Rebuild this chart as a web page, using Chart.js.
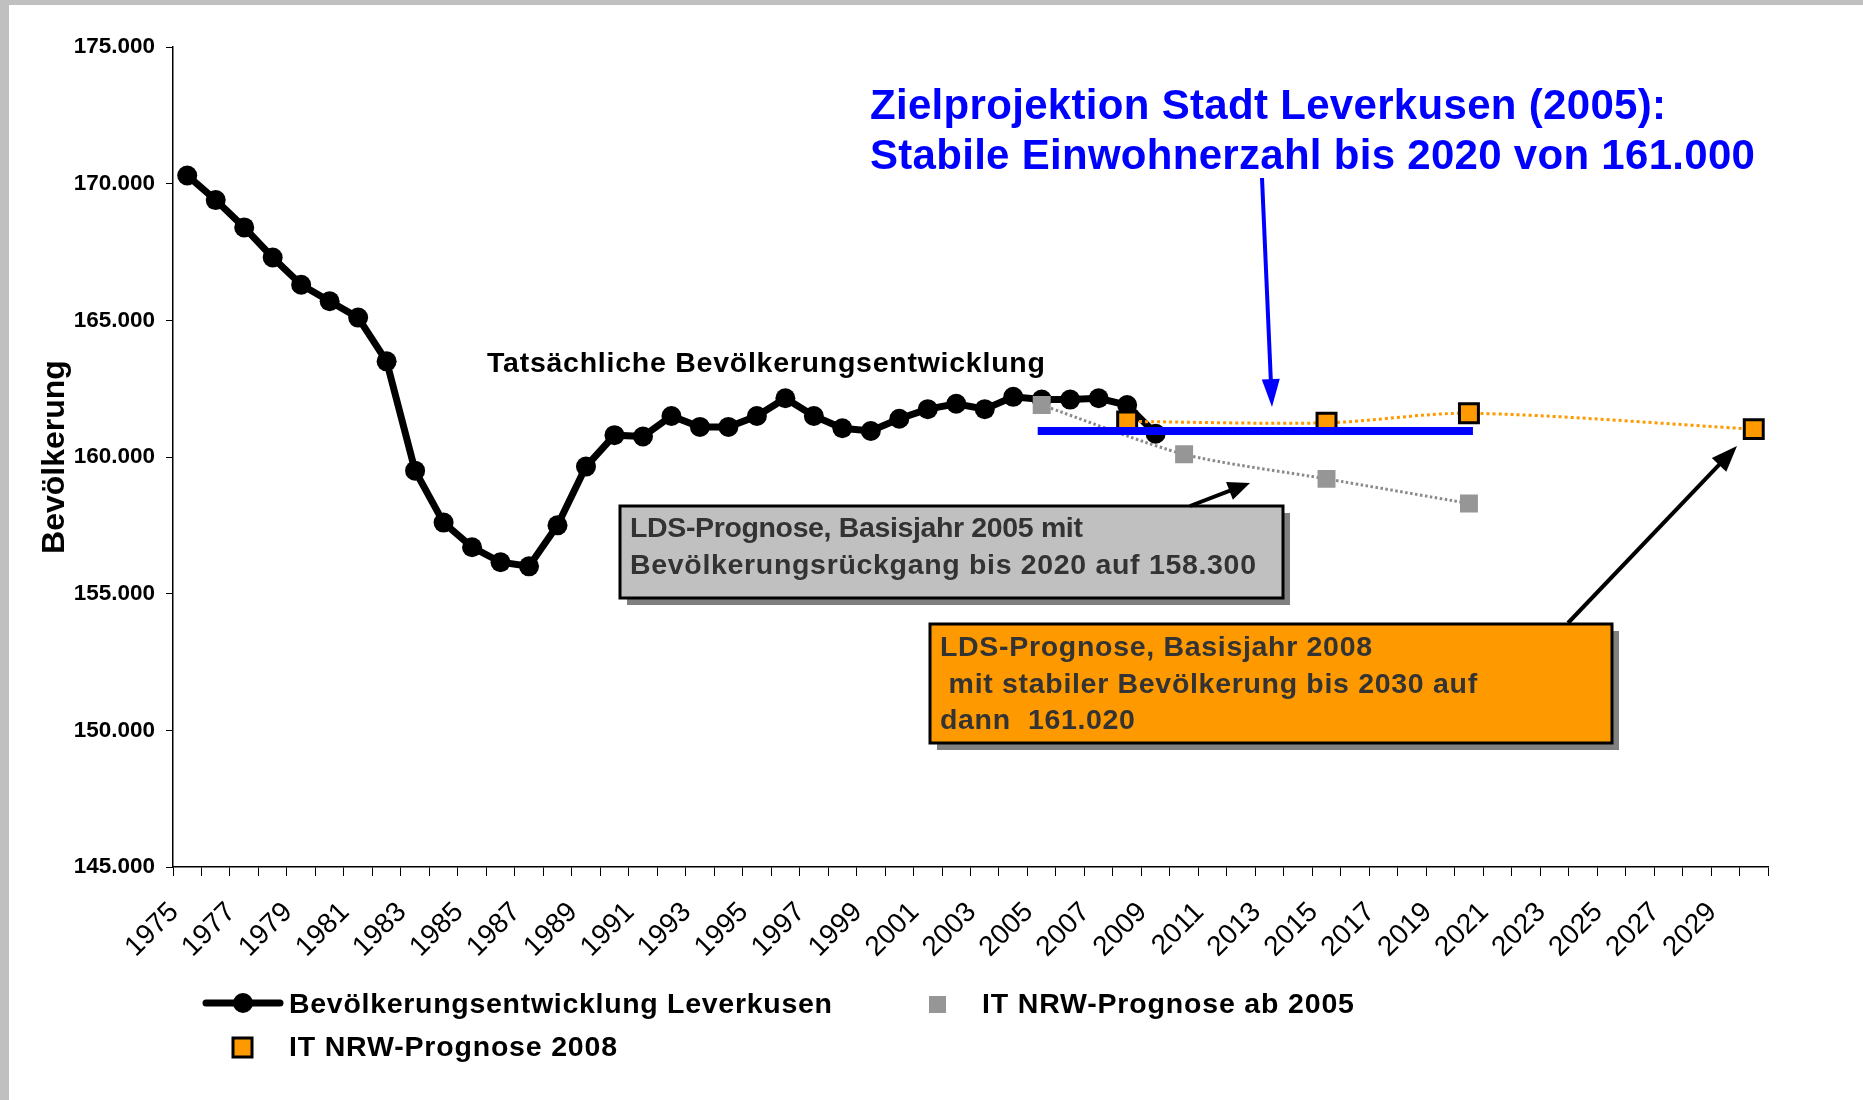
<!DOCTYPE html>
<html>
<head>
<meta charset="utf-8">
<script src="https://cdn.jsdelivr.net/npm/chart.js@4.4.0/dist/chart.umd.min.js"></script>
<style>
  html, body { margin: 0; padding: 0; background: #ffffff; }
  #wrap { position: relative; width: 1863px; height: 1100px; }
  canvas { display: block; }
</style>
</head>
<body>
<div id="wrap"><canvas id="chart" width="1863" height="1100"></canvas></div>
<script>
// ---------- data ----------
const categories = ['1975','1976','1977','1978','1979','1980','1981','1982','1983','1984',
  '1985','1986','1987','1988','1989','1990','1991','1992','1993','1994',
  '1995','1996','1997','1998','1999','2000','2001','2002','2003','2004',
  '2005','2006','2007','2008','2009','2010','2011','2012','2013','2014',
  '2015','2016','2017','2018','2019','2020','2021','2022','2023','2024',
  '2025','2026','2027','2028','2029','2030'];

const tickLabels = ['1975','1977','1979','1981','1983','1985','1987','1989','1991','1993',
  '1995','1997','1999','2001','2003','2005','2007','2009','2011','2013',
  '2015','2017','2019','2021','2023','2025','2027','2029'];

// Bevölkerungsentwicklung Leverkusen, 1975 ... 2009
const populationValues = [170300,169400,168400,167300,166300,165700,165100,163500,159500,157600,
  156700,156150,156000,157500,159650,160800,160750,161500,161100,161100,
  161500,162150,161500,161050,160950,161400,161750,161950,161750,162200,
  162100,162100,162150,161900,160850];

// IT NRW-Prognose ab 2005
const forecast2005Years = ['2005','2010','2015','2020'];
const forecast2005Values = [161900,160100,159200,158300];

// IT NRW-Prognose 2008
const forecast2008Years = ['2008','2015','2020','2030'];
const forecast2008Values = [161300,161250,161600,161020];

// Zielprojektion Stadt Leverkusen (2005)
const targetYears = ['2005','2020'];
const targetValues = [160950,160950];

const seriesNames = ['Bevölkerungsentwicklung Leverkusen','IT NRW-Prognose ab 2005','IT NRW-Prognose 2008'];

// ---------- helpers ----------
const FONT = "'Liberation Sans', Arial, Helvetica, sans-serif";
const pairs = (xs, ys) => xs.map((x, i) => ({ x: x, y: ys[i] }));

function fittedText(ctx, text, x, y, size, weight, color, targetWidth) {
  ctx.save();
  ctx.font = weight + ' ' + size + 'px ' + FONT;
  ctx.fillStyle = color;
  ctx.textAlign = 'left';
  ctx.textBaseline = 'alphabetic';
  const w = ctx.measureText(text).width;
  const n = Array.from(text).length;
  if (targetWidth && 'letterSpacing' in ctx && n > 1) {
    ctx.letterSpacing = ((targetWidth - w) / (n - 1)).toFixed(2) + 'px';
  }
  ctx.fillText(text, x, y);
  ctx.restore();
}

function arrow(ctx, x1, y1, x2, y2, color, width, headLen, headW) {
  const a = Math.atan2(y2 - y1, x2 - x1);
  const bx = x2 - Math.cos(a) * headLen, by = y2 - Math.sin(a) * headLen;
  ctx.save();
  ctx.strokeStyle = color; ctx.fillStyle = color; ctx.lineWidth = width;
  ctx.beginPath(); ctx.moveTo(x1, y1); ctx.lineTo(bx + Math.cos(a) * 2, by + Math.sin(a) * 2); ctx.stroke();
  ctx.beginPath();
  ctx.moveTo(x2, y2);
  ctx.lineTo(bx + Math.sin(a) * headW / 2, by - Math.cos(a) * headW / 2);
  ctx.lineTo(bx - Math.sin(a) * headW / 2, by + Math.cos(a) * headW / 2);
  ctx.closePath(); ctx.fill();
  ctx.restore();
}

function box(ctx, x, y, w, h, fill) {
  ctx.save();
  ctx.fillStyle = '#808080';
  ctx.fillRect(x + 7, y + 7, w, h);
  ctx.fillStyle = fill;
  ctx.fillRect(x, y, w, h);
  ctx.strokeStyle = '#000000'; ctx.lineWidth = 3;
  ctx.strokeRect(x, y, w, h);
  ctx.restore();
}

// ---------- plugins ----------
const frame = {
  id: 'frame',
  beforeDraw(chart) {
    const ctx = chart.ctx;
    ctx.save();
    ctx.fillStyle = '#c0c0c0';
    ctx.fillRect(0, 0, chart.width, chart.height);
    ctx.fillStyle = '#ffffff';
    ctx.fillRect(9, 5, chart.width - 9, chart.height - 5);
    ctx.restore();
  }
};

const annotations = {
  id: 'annotations',
  afterDraw(chart) {
    const ctx = chart.ctx;
    // title
    fittedText(ctx, 'Zielprojektion Stadt Leverkusen (2005):', 870, 119, 42, 'bold', '#0000ff', 796);
    fittedText(ctx, 'Stabile Einwohnerzahl bis 2020 von 161.000', 870, 169, 42, 'bold', '#0000ff', 885);
    arrow(ctx, 1262, 178, 1272, 407, '#0000ff', 4, 28, 18);

    // label of actual series
    fittedText(ctx, 'Tatsächliche Bevölkerungsentwicklung', 487, 372, 28.5, 'bold', '#000000', 558);

    // grey note
    box(ctx, 620, 506, 663, 92, '#c0c0c0');
    fittedText(ctx, 'LDS-Prognose, Basisjahr 2005 mit', 630, 537, 28.5, 'bold', '#333333', 453);
    fittedText(ctx, 'Bevölkerungsrückgang bis 2020 auf 158.300', 630, 574, 28.5, 'bold', '#333333', 626);
    arrow(ctx, 1190, 506, 1250, 483, '#000000', 4, 22, 19);

    // orange note
    box(ctx, 930, 624, 682, 119, '#ff9900');
    fittedText(ctx, 'LDS-Prognose, Basisjahr 2008', 940, 656, 28.5, 'bold', '#333333', 432);
    fittedText(ctx, ' mit stabiler Bevölkerung bis 2030 auf', 940, 693, 28.5, 'bold', '#333333', 537);
    fittedText(ctx, 'dann  161.020', 940, 729, 28.5, 'bold', '#333333', 195);
    arrow(ctx, 1568, 623, 1737, 446, '#000000', 4, 26, 20);
  }
};

const customLegend = {
  id: 'customLegend',
  afterDraw(chart) {
    const ctx = chart.ctx;
    const ds = chart.data.datasets;
    ctx.save();
    // series 1: line with dot
    ctx.strokeStyle = ds[0].borderColor; ctx.lineWidth = 7; ctx.lineCap = 'round';
    ctx.beginPath(); ctx.moveTo(206, 1003); ctx.lineTo(280, 1003); ctx.stroke();
    ctx.fillStyle = ds[0].pointBackgroundColor;
    ctx.beginPath(); ctx.arc(243, 1003, 10, 0, Math.PI * 2); ctx.fill();
    // series 2: grey square
    ctx.fillStyle = ds[1].pointBackgroundColor;
    ctx.fillRect(929, 996, 17, 17);
    // series 3: orange square with border
    ctx.fillStyle = ds[2].pointBackgroundColor;
    ctx.fillRect(233, 1038, 19, 19);
    ctx.strokeStyle = '#000000'; ctx.lineWidth = 3;
    ctx.strokeRect(233, 1038, 19, 19);
    ctx.restore();
    fittedText(ctx, seriesNames[0], 289, 1013, 28.5, 'bold', '#000000', 543);
    fittedText(ctx, seriesNames[1], 982, 1013, 28.5, 'bold', '#000000', 372);
    fittedText(ctx, seriesNames[2], 289, 1056, 28.5, 'bold', '#000000', 328);
  }
};

// ---------- chart ----------
Chart.defaults.font.family = FONT;
Chart.defaults.color = '#000000';

new Chart(document.getElementById('chart'), {
  type: 'line',
  data: {
    labels: categories,
    datasets: [
      {
        label: seriesNames[0],
        data: populationValues,
        borderColor: '#000000',
        backgroundColor: '#000000',
        borderWidth: 7,
        pointRadius: 10,
        pointBackgroundColor: '#000000',
        pointBorderWidth: 0,
        tension: 0,
        order: 3
      },
      {
        label: seriesNames[1],
        data: pairs(forecast2005Years, forecast2005Values),
        borderColor: '#8a8a8a',
        borderWidth: 3,
        borderDash: [2.5, 2.5],
        pointStyle: 'rect',
        pointRadius: 12.7,
        pointBackgroundColor: '#969696',
        pointBorderWidth: 0,
        tension: 0.25,
        order: 1
      },
      {
        label: seriesNames[2],
        data: pairs(forecast2008Years, forecast2008Values),
        borderColor: '#ff9900',
        borderWidth: 3,
        borderDash: [3, 3],
        pointStyle: 'rect',
        pointRadius: 13.4,
        pointBackgroundColor: '#ff9900',
        pointBorderColor: '#000000',
        pointBorderWidth: 3,
        tension: 0.3,
        order: 2
      },
      {
        label: 'Zielprojektion',
        data: pairs(targetYears, targetValues),
        borderColor: '#0000ff',
        borderWidth: 8,
        borderCapStyle: 'square',
        pointRadius: 0,
        tension: 0,
        order: 0
      }
    ]
  },
  options: {
    responsive: false,
    animation: false,
    events: [],
    devicePixelRatio: 1,
    layout: { padding: { left: 0, top: 47, right: 95, bottom: 0 } },
    plugins: {
      legend: { display: false },
      tooltip: { enabled: false },
      title: { display: false }
    },
    scales: {
      x: {
        type: 'category',
        offset: true,
        grid: { offset: true, drawOnChartArea: false, drawTicks: true, tickLength: 9, color: '#000000', lineWidth: 1 },
        border: { color: '#000000', width: 1.5 },
        ticks: {
          autoSkip: false,
          minRotation: 45,
          maxRotation: 45,
          padding: 20,
          labelOffset: -13,
          font: { size: 28, weight: 'normal' },
          color: '#000000',
          callback: function (value, index) {
            const lab = this.getLabelForValue(value);
            return tickLabels.includes(lab) ? lab : '';
          }
        },
        afterFit: (s) => { s.height = 233; }
      },
      y: {
        min: 145000,
        max: 175000,
        grid: { drawOnChartArea: false, drawTicks: true, tickLength: 7, color: '#000000', lineWidth: 1 },
        border: { color: '#000000', width: 1.5 },
        ticks: {
          stepSize: 5000,
          padding: 11,
          font: { size: 22.5, weight: 'bold' },
          color: '#000000',
          callback: (v) => (v / 1000).toFixed(3)
        },
        title: {
          display: true,
          text: 'Bevölkerung',
          font: { size: 32, weight: 'bold' },
          color: '#000000',
          padding: { top: 36, bottom: 0 }
        },
        afterFit: (s) => { s.width = 173; }
      }
    }
  },
  plugins: [frame, customLegend, annotations]
});
</script>
</body>
</html>
